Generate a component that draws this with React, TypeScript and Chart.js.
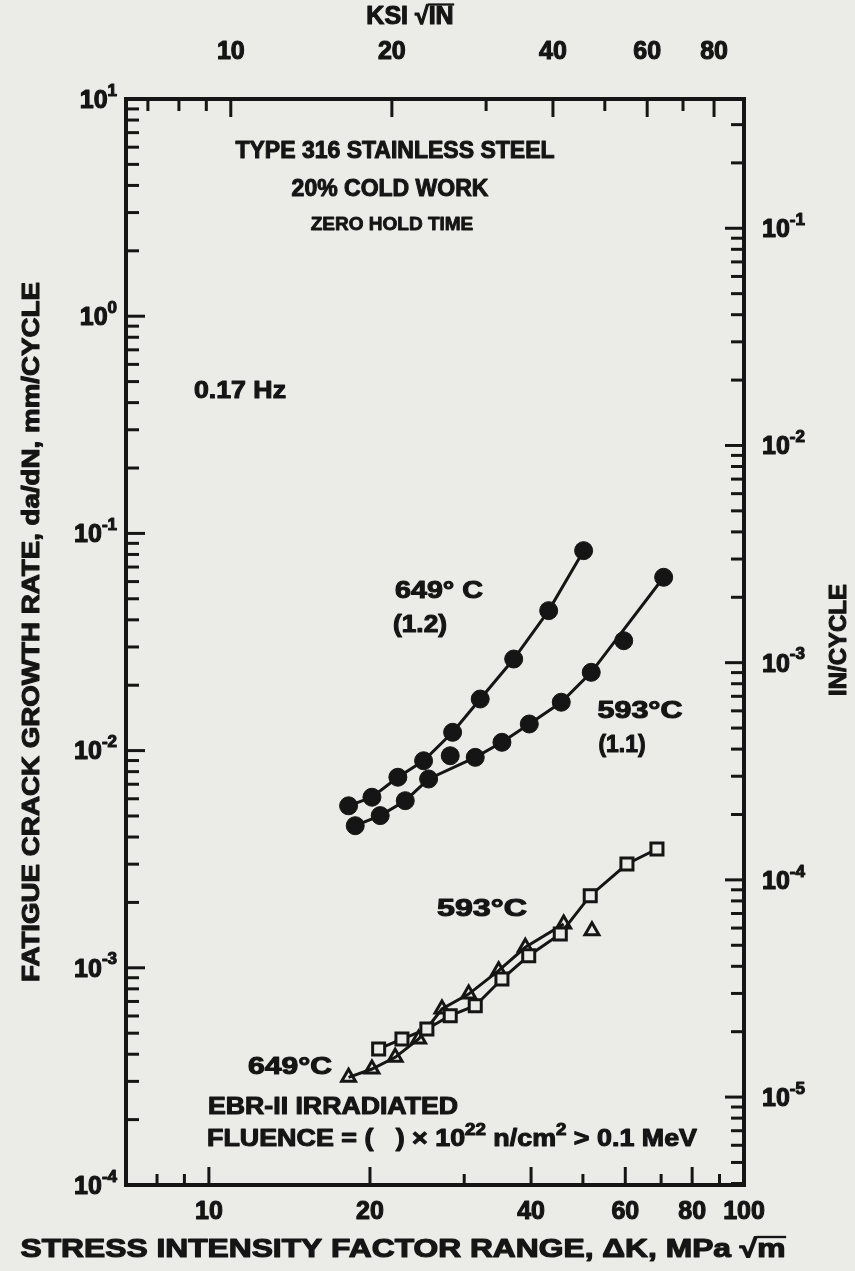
import React, { useEffect, useRef } from "react";
import { Chart, registerables } from "chart.js";
Chart.register(...registerables);

const W = 855;
const H = 1271;
const MPA_PER_KSI = 1.0988;
const MM_PER_IN = 25.4;
const INK = "#151515";
const BG = "#ebebe8";
const FONT = '"Liberation Sans", Arial, "DejaVu Sans", sans-serif';

// axis ranges / ticks
const xMin = 7;
const xMax = 100;
const yMin = 0.0001;
const yMax = 10;
const xTickValues = [10, 20, 40, 60, 80, 100];
const xMinorValues = [8, 9, 10, 20, 30, 40, 50, 60, 70, 80, 90];
const topTickValues = [10, 20, 40, 60, 80];
const topMinorValues = [7, 8, 9, 10, 20, 30, 40, 50, 60, 70, 80];
const yTickExps = [1, 0, -1, -2, -3, -4];
const y2TickExps = [-1, -2, -3, -4, -5];

// 20% cold work, unirradiated, 649°C (1.2)  ΔK [MPa√m], da/dN [mm/cycle]
const k649a = [18.24, 20.17, 22.55, 25.19, 28.54, 32.14, 37.12, 43.15, 50.15];
const r649a = [0.00557, 0.0061, 0.00754, 0.00898, 0.01214, 0.01728, 0.0264, 0.0441, 0.0833];
// 593°C (1.1) data points
const k593a = [18.77, 20.9, 23.28, 25.74, 28.25, 31.46, 35.29, 39.7, 45.55, 51.82, 59.6, 70.77];
const r593a = [0.00451, 0.00502, 0.00588, 0.0074, 0.00947, 0.00931, 0.01092, 0.01326, 0.0167, 0.02293, 0.03206, 0.0628];
// 593°C (1.1) drawn curve
const k593aFit = [18.77, 20.9, 23.28, 25.74, 31.46, 35.29, 39.7, 45.55, 51.82, 70.77];
const r593aFit = [0.00451, 0.00502, 0.00588, 0.0074, 0.00931, 0.01092, 0.01326, 0.0167, 0.02293, 0.0628];
// EBR-II irradiated 593°C (squares)
const k593b = [20.76, 22.95, 25.55, 28.25, 31.46, 35.29, 39.6, 45.36, 51.6, 60.43, 68.76];
const r593b = [0.000423, 0.00047, 0.000523, 0.000602, 0.000669, 0.000888, 0.001137, 0.001431, 0.002148, 0.003005, 0.003524];
// EBR-II irradiated 649°C (triangles)
const k649b = [18.24, 20.17, 22.29, 24.66, 27.26, 30.58, 34.79, 39.02, 46.03, 51.98];
const r649b = [0.000313, 0.000342, 0.000387, 0.00047, 0.000646, 0.000757, 0.00097, 0.001243, 0.00159, 0.001482];
const k649bLine = [18.24, 20.17, 22.29, 24.66, 27.26, 30.58, 34.79, 39.02, 46.03];
const r649bLine = [0.000313, 0.000342, 0.000387, 0.00047, 0.000646, 0.000757, 0.00097, 0.001243, 0.00159];

type Seg = { t: string; sup?: boolean; over?: boolean };

function segFont(size: number, sup?: boolean) {
  return `bold ${sup ? Math.round(size * 0.68) : size}px ${FONT}`;
}

function drawRich(
  ctx: CanvasRenderingContext2D,
  segs: Seg[],
  x: number,
  y: number,
  size: number,
  align: "left" | "center" | "right" = "center",
  width?: number,
  rot = 0
) {
  ctx.save();
  let total = 0;
  const ws = segs.map((s) => {
    ctx.font = segFont(size, s.sup);
    const w = ctx.measureText(s.t).width;
    total += w;
    return w;
  });
  const k = width ? width / total : 1;
  ctx.translate(x, y);
  if (rot) ctx.rotate(rot);
  const start = align === "center" ? (-total * k) / 2 : align === "right" ? -total * k : 0;
  ctx.translate(start, 0);
  ctx.scale(k, 1);
  ctx.fillStyle = INK;
  ctx.strokeStyle = INK;
  ctx.textBaseline = "middle";
  ctx.textAlign = "left";
  ctx.lineJoin = "round";
  let cx = 0;
  segs.forEach((s, i) => {
    ctx.font = segFont(size, s.sup);
    const dy = s.sup ? -size * 0.4 : 0;
    ctx.lineWidth = size * 0.045;
    ctx.fillText(s.t, cx, dy);
    ctx.strokeText(s.t, cx, dy);
    if (s.over) {
      ctx.lineWidth = size * 0.09;
      ctx.beginPath();
      ctx.moveTo(cx - size * 0.02, -size * 0.5);
      ctx.lineTo(cx + ws[i] + size * 0.02, -size * 0.5);
      ctx.stroke();
    }
    cx += ws[i];
  });
  ctx.restore();
}

const pow10 = (e: number): Seg[] => [{ t: "10" }, { t: String(e), sup: true }];

type Note = { segs: Seg[]; x: number; y: number; size: number; align?: "left" | "center" | "right"; width?: number };
const notes: Note[] = [
  { segs: [{ t: "TYPE 316 STAINLESS STEEL" }], x: 395, y: 152, size: 23 },
  { segs: [{ t: "20% COLD WORK" }], x: 390, y: 190, size: 23 },
  { segs: [{ t: "ZERO HOLD TIME" }], x: 392, y: 225, size: 19 },
  { segs: [{ t: "0.17 Hz" }], x: 240, y: 392, size: 23, width: 92 },
  { segs: [{ t: "649° C" }], x: 439, y: 591, size: 24, width: 88 },
  { segs: [{ t: "(1.2)" }], x: 420, y: 625, size: 24, width: 54 },
  { segs: [{ t: "593°C" }], x: 640, y: 711, size: 24, width: 85 },
  { segs: [{ t: "(1.1)" }], x: 622, y: 745, size: 24, width: 47 },
  { segs: [{ t: "593°C" }], x: 482, y: 909, size: 24, width: 90 },
  { segs: [{ t: "649°C" }], x: 290, y: 1067, size: 24, width: 84 },
  { segs: [{ t: "EBR-II IRRADIATED" }], x: 208, y: 1108, size: 23, align: "left", width: 250 },
  {
    segs: [
      { t: "FLUENCE = (   ) × 10" },
      { t: "22", sup: true },
      { t: " n/cm" },
      { t: "2", sup: true },
      { t: " > 0.1 MeV" },
    ],
    x: 207,
    y: 1140,
    size: 23,
    align: "left",
    width: 490,
  },
];

const decorPlugin = {
  id: "decor",
  beforeDraw(chart: any) {
    const ctx = chart.ctx as CanvasRenderingContext2D;
    ctx.save();
    ctx.fillStyle = BG;
    ctx.fillRect(0, 0, chart.width, chart.height);
    ctx.restore();
  },
  afterDraw(chart: any) {
    const ctx = chart.ctx as CanvasRenderingContext2D;
    const { left, right, top, bottom } = chart.chartArea;
    const sx = chart.scales.x;
    const sx2 = chart.scales.x2;
    const sy = chart.scales.y;
    const sy2 = chart.scales.y2;
    ctx.save();
    ctx.strokeStyle = INK;
    ctx.lineWidth = 3;
    ctx.lineCap = "butt";
    const line = (x1: number, y1: number, x2: number, y2: number) => {
      ctx.beginPath();
      ctx.moveTo(x1, y1);
      ctx.lineTo(x2, y2);
      ctx.stroke();
    };
    // bottom ticks
    xMinorValues.forEach((v) => {
      const p = sx.getPixelForValue(v);
      const len = xTickValues.includes(v) ? 18 : 11;
      line(p, bottom, p, bottom - len);
    });
    // top ticks (ksi)
    topMinorValues.forEach((v) => {
      const p = sx2.getPixelForValue(v);
      const len = topTickValues.includes(v) ? 18 : 12;
      line(p, top, p, top + len);
    });
    // left ticks
    for (let e = -4; e <= 0; e++) {
      for (let m = 1; m <= 9; m++) {
        const v = m * Math.pow(10, e);
        if (v <= yMin) continue;
        const p = sy.getPixelForValue(v);
        line(left, p, left + (m === 1 ? 19 : 13), p);
      }
    }
    // right ticks (in/cycle)
    for (let e = -6; e <= -1; e++) {
      for (let m = 1; m <= 9; m++) {
        const v = m * Math.pow(10, e);
        if (v <= sy2.min || v >= sy2.max) continue;
        const p = sy2.getPixelForValue(v);
        line(right, p, right - (m === 1 ? 19 : 13), p);
      }
    }
    // frame
    ctx.lineWidth = 4;
    ctx.strokeRect(left, top, right - left, bottom - top);

    // tick labels
    xTickValues.forEach((v) => drawRich(ctx, [{ t: String(v) }], sx.getPixelForValue(v), 1212, 25));
    topTickValues.forEach((v) => drawRich(ctx, [{ t: String(v) }], sx2.getPixelForValue(v), 52, 25));
    yTickExps.forEach((e) => drawRich(ctx, pow10(e), 117, sy.getPixelForValue(Math.pow(10, e)) + 2, 25, "right"));
    y2TickExps.forEach((e) => drawRich(ctx, pow10(e), 762, sy2.getPixelForValue(Math.pow(10, e)) + 2, 25, "left"));

    // axis titles
    drawRich(ctx, [{ t: "KSI " }, { t: "√" }, { t: "IN", over: true }], 410, 17, 25);
    drawRich(
      ctx,
      [{ t: "STRESS INTENSITY FACTOR RANGE, ΔK, MPa " }, { t: "√" }, { t: "m", over: true }],
      403,
      1250,
      26,
      "center",
      765
    );
    drawRich(ctx, [{ t: "FATIGUE CRACK GROWTH RATE, da/dN, mm/CYCLE" }], 32, 632, 24, "center", 700, -Math.PI / 2);
    drawRich(ctx, [{ t: "IN/CYCLE" }], 840, 640, 23, "center", 112, -Math.PI / 2);

    // annotations
    notes.forEach((n) => drawRich(ctx, n.segs, n.x, n.y, n.size, n.align || "center", n.width));
    ctx.restore();
  },
};

const pts = (xs: number[], ys: number[]) => xs.map((x, i) => ({ x, y: ys[i] }));

export default function App() {
  const ref = useRef<HTMLCanvasElement>(null);
  useEffect(() => {
    const canvas = ref.current;
    if (!canvas) return;
    const fix = (w?: number, h?: number) => (s: any) => {
      if (w !== undefined) s.width = w;
      if (h !== undefined) s.height = h;
      s.paddingLeft = 0;
      s.paddingRight = 0;
      s.paddingTop = 0;
      s.paddingBottom = 0;
    };
    const hidden = { display: false };
    const chart = new Chart(canvas, {
      type: "scatter",
      data: {
        datasets: [
          {
            label: "593°C irradiated",
            data: pts(k593b, r593b),
            showLine: true,
            borderColor: INK,
            borderWidth: 3,
            pointStyle: "rect",
            pointRadius: 8.5,
            pointBackgroundColor: BG,
            pointBorderColor: INK,
            pointBorderWidth: 3,
          },
          {
            label: "649°C irradiated",
            data: pts(k649b, r649b),
            showLine: false,
            pointStyle: "triangle",
            pointRadius: 8,
            pointBackgroundColor: "rgba(0,0,0,0)",
            pointBorderColor: INK,
            pointBorderWidth: 3,
          },
          {
            label: "649°C (1.2)",
            data: pts(k649a, r649a),
            showLine: true,
            borderColor: INK,
            borderWidth: 3,
            pointStyle: "circle",
            pointRadius: 9,
            pointBackgroundColor: INK,
            pointBorderColor: INK,
            pointBorderWidth: 1,
          },
          {
            label: "593°C (1.1)",
            data: pts(k593a, r593a),
            showLine: false,
            pointStyle: "circle",
            pointRadius: 9,
            pointBackgroundColor: INK,
            pointBorderColor: INK,
            pointBorderWidth: 1,
          },
          {
            label: "593°C (1.1) curve",
            data: pts(k593aFit, r593aFit),
            showLine: true,
            borderColor: INK,
            borderWidth: 3,
            pointRadius: 0,
          },
          {
            label: "649°C irradiated curve",
            data: pts(k649bLine, r649bLine),
            showLine: true,
            borderColor: INK,
            borderWidth: 3,
            pointRadius: 0,
          },
        ],
      },
      options: {
        animation: false,
        responsive: false,
        devicePixelRatio: 1,
        events: [],
        layout: { padding: 0 },
        plugins: { legend: { display: false }, tooltip: { enabled: false } },
        scales: {
          x: {
            type: "logarithmic",
            position: "bottom",
            min: xMin,
            max: xMax,
            ticks: hidden,
            grid: { display: false, drawTicks: false },
            border: hidden,
            afterFit: fix(undefined, H - 1185),
          },
          x2: {
            type: "logarithmic",
            position: "top",
            min: xMin / MPA_PER_KSI,
            max: xMax / MPA_PER_KSI,
            ticks: hidden,
            grid: { display: false, drawTicks: false },
            border: hidden,
            afterFit: fix(undefined, 99),
          },
          y: {
            type: "logarithmic",
            position: "left",
            min: yMin,
            max: yMax,
            ticks: hidden,
            grid: { display: false, drawTicks: false },
            border: hidden,
            afterFit: fix(126, undefined),
          },
          y2: {
            type: "logarithmic",
            position: "right",
            min: yMin / MM_PER_IN,
            max: yMax / MM_PER_IN,
            ticks: hidden,
            grid: { display: false, drawTicks: false },
            border: hidden,
            afterFit: fix(W - 744, undefined),
          },
        },
      } as any,
      plugins: [decorPlugin],
    });
    return () => chart.destroy();
  }, []);
  return (
    <div style={{ position: "fixed", left: 0, top: 0, width: W, height: H, background: BG }}>
      <canvas ref={ref} width={W} height={H} style={{ width: W, height: H, display: "block" }} />
    </div>
  );
}
